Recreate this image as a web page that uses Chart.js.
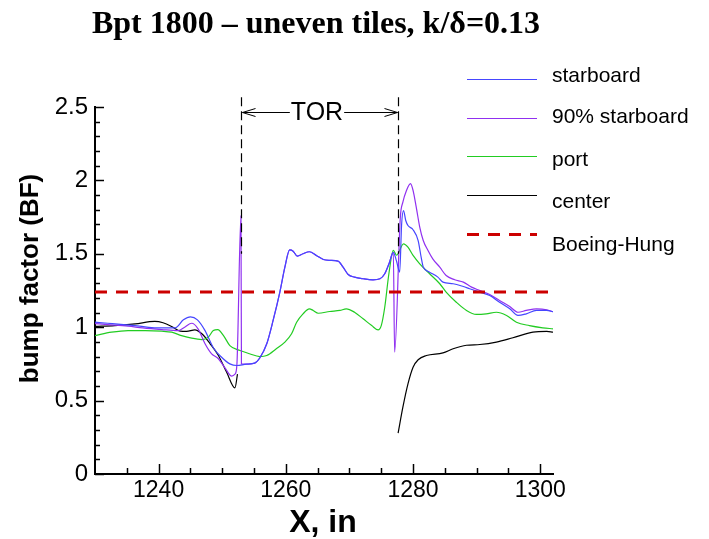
<!DOCTYPE html>
<html><head><meta charset="utf-8">
<style>html,body{margin:0;padding:0;background:#fff}canvas{display:block}</style>
<script src="https://cdn.jsdelivr.net/npm/chart.js@4"></script>
</head><body>
<canvas id="c" width="709" height="539"></canvas>
<script>
const titleText = 'Bpt 1800 \u2013 uneven tiles, k/\u03b4=0.13';
const xTitle = 'X, in';
const yTitle = 'bump factor (BF)';
const seriesLabels = ['starboard', '90% starboard', 'port', 'center', 'Boeing-Hung'];
const xTickValues = [1240, 1260, 1280, 1300];
const yTickValues = [0, 0.5, 1, 1.5, 2, 2.5];
const xRange = [1230, 1302];
const yRange = [0, 2.5];

const starboardX = [1230,1232,1234.5,1237,1239.7,1242.6,1243.9,1245,1246.1,1247.3,1248.6,1249.9,1251.2,1252.3,1253.8,1255.1,1255.9,1257,1258,1259.06,1259.85,1260.6,1261.15,1261.8,1262.7,1263.7,1264.8,1265.9,1266.9,1268.2,1269,1269.8,1270.8,1272.15,1273.7,1274.8,1275.55,1276.2,1276.9,1277.4,1277.9,1278.2,1278.5,1278.85,1279.2,1280,1280.8,1281.3,1281.6,1282.6,1283.9,1284.7,1286.3,1287.9,1288.9,1290.5,1292.05,1293.6,1295.2,1296.5,1297.8,1299.4,1301,1302];
const starboardY = [1.034,1.027,1.018,1.007,0.996,0.996,1.05,1.07,1.05,0.977,0.86,0.795,0.75,0.739,0.748,0.755,0.79,0.887,1.046,1.239,1.409,1.527,1.518,1.484,1.5,1.514,1.489,1.461,1.455,1.45,1.409,1.359,1.341,1.33,1.323,1.33,1.364,1.43,1.51,1.45,1.375,1.7,1.795,1.727,1.693,1.664,1.59,1.47,1.41,1.375,1.341,1.307,1.296,1.277,1.262,1.239,1.216,1.17,1.125,1.08,1.091,1.114,1.114,1.105];

const starboard90X = [1230,1232,1235.2,1237.5,1240.5,1243.1,1244.1,1245.2,1246.2,1247.3,1248.3,1249.4,1250.4,1251.5,1252,1252.3,1252.95,1253.02,1253.8,1255.1,1255.9,1257,1258,1259.06,1259.85,1260.6,1261.15,1261.8,1262.7,1263.7,1264.8,1265.9,1266.9,1268.2,1269,1269.8,1270.8,1272.15,1273.7,1274.8,1275.55,1276.2,1276.9,1277.1,1278,1278.4,1278.95,1279.6,1280,1280.5,1281.05,1281.6,1282.35,1283.1,1284.2,1285.2,1286.55,1287.9,1289.2,1290.5,1292.05,1293.6,1295.2,1296.5,1297.8,1299.4,1301,1302];
const starboard90Y = [1.025,1.018,1.007,0.995,0.984,0.977,1.0,1.027,0.989,0.887,0.82,0.785,0.725,0.667,0.68,0.74,1.76,0.75,0.748,0.755,0.79,0.887,1.046,1.239,1.409,1.527,1.518,1.484,1.5,1.514,1.489,1.461,1.455,1.45,1.409,1.359,1.341,1.33,1.323,1.33,1.364,1.43,1.51,0.83,1.75,1.852,1.93,1.978,1.932,1.818,1.682,1.591,1.523,1.466,1.409,1.352,1.323,1.307,1.273,1.25,1.223,1.182,1.141,1.102,1.114,1.125,1.119,1.105];

const portX = [1230,1232.6,1235.2,1237.9,1240.5,1242.05,1243.6,1245.2,1246.8,1247.8,1248.6,1249.3,1250.2,1251.2,1252.8,1254.3,1255.9,1257,1258.5,1259.85,1260.9,1261.7,1262.7,1263.7,1264.3,1265.1,1266.9,1268.5,1269.5,1270.8,1272.15,1273.5,1274.5,1275,1275.55,1276.2,1276.9,1277.4,1278.5,1279.2,1280,1281.05,1282.6,1284.2,1285.2,1286.8,1288.4,1289.95,1291.5,1293.1,1294.7,1296.25,1298.3,1300.4,1302];
const portY = [0.943,0.966,0.977,0.977,0.973,0.966,0.943,0.925,0.916,0.932,0.977,0.984,0.943,0.875,0.841,0.819,0.8,0.807,0.853,0.898,0.955,1.034,1.091,1.125,1.114,1.095,1.107,1.114,1.125,1.102,1.057,1.011,0.982,1.011,1.136,1.364,1.523,1.49,1.568,1.545,1.489,1.432,1.364,1.296,1.239,1.17,1.114,1.087,1.091,1.102,1.08,1.034,1.011,0.996,0.989];

const centerX = [1230,1233.1,1236.3,1239.4,1240.7,1242.05,1243.4,1244.4,1245.7,1246.8,1248.1,1249.4,1250.7,1252,1252.4,1265,1277.65,1278.4,1279.2,1280,1280.8,1282.1,1284.7,1286.3,1288.4,1290.5,1293.1,1295.7,1298.85,1301,1302];
const centerY = [1.005,1.011,1.023,1.039,1.03,1.005,0.973,0.971,0.982,0.955,0.887,0.807,0.693,0.587,0.68,null,0.278,0.455,0.614,0.727,0.778,0.807,0.825,0.853,0.877,0.882,0.898,0.928,0.966,0.971,0.966];

const boeingX = [1230, 1302];
const boeingY = [1.24, 1.24];

const torX = [1252.93, 1277.6];
const torTop = 2.566;
const torBottom = 1.5;
const torArrowY = 2.464;
const torLabel = 'TOR';

const pts = (xs, ys) => xs.map((v, i) => ({x: v, y: ys[i]}));

const SANS = '"Liberation Sans", Arial, Helvetica, sans-serif';
const SERIF = '"Liberation Serif", "Times New Roman", serif';

const lineBase = {fill: false, pointRadius: 0, borderWidth: 1.2, cubicInterpolationMode: 'monotone', spanGaps: false, order: 1};

const datasets = [
  Object.assign({}, lineBase, {label: seriesLabels[0], data: pts(starboardX, starboardY), borderColor: '#4646ff'}),
  Object.assign({}, lineBase, {label: seriesLabels[1], data: pts(starboard90X, starboard90Y), borderColor: '#9030f0'}),
  Object.assign({}, lineBase, {label: seriesLabels[2], data: pts(portX, portY), borderColor: '#22cc22'}),
  Object.assign({}, lineBase, {label: seriesLabels[3], data: pts(centerX, centerY), borderColor: '#000000'}),
  Object.assign({}, lineBase, {label: seriesLabels[4], data: pts(boeingX, boeingY), borderColor: '#cc0000', borderWidth: 3, borderDash: [12, 9], order: 0})
];

const legendLineY = [79, 118, 156, 195, 234];
const legendTextY = [76, 117, 160, 202, 245];

const deco = {
  id: 'deco',
  afterDatasetsDraw(chart) {
    const {ctx, scales: {x, y}} = chart;
    ctx.save();
    ctx.strokeStyle = '#000';
    ctx.lineWidth = 1.2;
    ctx.setLineDash([9, 5]);
    torX.forEach(v => {
      const px = Math.round(x.getPixelForValue(v)) + 0.5;
      ctx.beginPath();
      ctx.moveTo(px, y.getPixelForValue(torTop));
      ctx.lineTo(px, y.getPixelForValue(torBottom));
      ctx.stroke();
    });
    ctx.setLineDash([]);
    const ay = Math.round(y.getPixelForValue(torArrowY)) + 0.5;
    const x1 = Math.round(x.getPixelForValue(torX[0])) + 0.5;
    const x2 = Math.round(x.getPixelForValue(torX[1])) + 0.5;
    ctx.font = '25px ' + SANS;
    const tw = ctx.measureText(torLabel).width;
    const cx = (x1 + x2) / 2 - 3;
    ctx.fillStyle = '#000';
    ctx.textAlign = 'center';
    ctx.textBaseline = 'middle';
    ctx.fillText(torLabel, cx, ay + 1);
    ctx.lineWidth = 1;
    ctx.beginPath();
    ctx.moveTo(x1 + 1, ay); ctx.lineTo(cx - tw / 2 - 1, ay);
    ctx.moveTo(cx + tw / 2 + 1, ay); ctx.lineTo(x2 - 1, ay);
    ctx.moveTo(x1 + 14, ay - 4); ctx.lineTo(x1 + 1, ay); ctx.lineTo(x1 + 14, ay + 4);
    ctx.moveTo(x2 - 14, ay - 4); ctx.lineTo(x2 - 1, ay); ctx.lineTo(x2 - 14, ay + 4);
    ctx.stroke();
    ctx.restore();
  },
  afterDraw(chart) {
    const {ctx, chartArea: a, scales: {x, y}} = chart;
    ctx.save();
    ctx.strokeStyle = '#000';
    ctx.lineWidth = 1.5;
    for (let k = 0; k <= 25; k++) {
      const v = k / 10;
      const py = Math.round(y.getPixelForValue(v)) + 0.5;
      const len = (k % 5 === 0) ? 9 : 5;
      ctx.beginPath(); ctx.moveTo(a.left, py); ctx.lineTo(a.left + len, py); ctx.stroke();
    }
    for (let v = 1235; v <= 1300; v += 5) {
      const px = Math.round(x.getPixelForValue(v)) + 0.5;
      const len = (v % 20 === 0) ? 10 : 6;
      ctx.beginPath(); ctx.moveTo(px, a.bottom); ctx.lineTo(px, a.bottom - len); ctx.stroke();
    }
    ctx.fillStyle = '#000';
    ctx.textAlign = 'center';
    ctx.textBaseline = 'alphabetic';
    ctx.font = 'bold 32px ' + SERIF;
    ctx.fillText(titleText, 316, 33);
    ctx.font = 'bold 32px ' + SANS;
    ctx.fillText(xTitle, 323, 532);
    ctx.save();
    ctx.translate(38, 278.5);
    ctx.rotate(-Math.PI / 2);
    ctx.font = 'bold 26px ' + SANS;
    ctx.fillText(yTitle, 0, 0);
    ctx.restore();
    ctx.textAlign = 'left';
    ctx.textBaseline = 'middle';
    ctx.font = '21px ' + SANS;
    chart.data.datasets.forEach((ds, i) => {
      ctx.save();
      ctx.strokeStyle = ds.borderColor;
      ctx.lineWidth = ds.borderWidth;
      ctx.setLineDash(ds.borderDash || []);
      ctx.beginPath();
      const ly = Math.round(legendLineY[i]) + 0.5;
      ctx.moveTo(467, ly); ctx.lineTo(537, ly);
      ctx.stroke();
      ctx.restore();
      ctx.fillText(ds.label, 552, legendTextY[i]);
    });
    ctx.restore();
  }
};

new Chart(document.getElementById('c'), {
  type: 'line',
  data: {datasets},
  options: {
    responsive: false,
    animation: false,
    devicePixelRatio: 1,
    layout: {padding: {left: 0, top: 107, right: 156, bottom: 0}},
    plugins: {legend: {display: false}, title: {display: false}, tooltip: {enabled: false}},
    scales: {
      x: {
        type: 'linear', min: xRange[0], max: xRange[1],
        afterFit(s) { s.height = 65; },
        afterBuildTicks(s) { s.ticks = xTickValues.map(v => ({value: v})); },
        grid: {display: false, drawTicks: false},
        border: {display: true, color: '#000', width: 2},
        ticks: {color: '#000', padding: 3, font: {family: SANS, size: 23}, maxRotation: 0, autoSkip: false, callback: v => String(v)}
      },
      y: {
        type: 'linear', min: yRange[0], max: yRange[1],
        afterFit(s) { s.width = 95; },
        afterBuildTicks(s) { s.ticks = yTickValues.map(v => ({value: v})); },
        grid: {display: false, drawTicks: false},
        border: {display: true, color: '#000', width: 2},
        ticks: {color: '#000', padding: 7, font: {family: SANS, size: 24}, autoSkip: false, callback: v => String(v)}
      }
    }
  },
  plugins: [deco]
});
</script>
</body></html>
